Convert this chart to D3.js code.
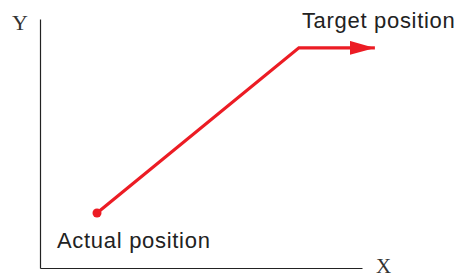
<!DOCTYPE html>
<html>
<head>
  <script src="https://d3js.org/d3.v7.min.js"></script>
  <style>
    body { margin: 0; background: #fff; }
    svg { display: block; }
  </style>
</head>
<body>
<svg></svg>
<script>
  // path points in axis units (0..100 on both axes)
  var pathX = [17.7, 80.4, 104];
  var pathY = [22.1, 88.4, 88.4];
  var startLabel = "Actual position";
  var endLabel = "Target position";
  var axisNames = ["X", "Y"];

  var width = 456, height = 278;
  var red = "#ec1c24";

  var svg = d3.select("svg").attr("width", width).attr("height", height);

  var x = d3.scaleLinear().domain([0, 100]).range([40, 362]);
  var y = d3.scaleLinear().domain([0, 100]).range([268, 19]);

  // axes, drawn as plain lines without ticks
  svg.append("g")
    .attr("transform", "translate(0," + y(0) + ")")
    .call(d3.axisBottom(x).ticks(0).tickSizeOuter(0))
    .select(".domain").attr("stroke", "#222").attr("stroke-width", 1.2);
  svg.append("g")
    .attr("transform", "translate(" + x(0) + ",0)")
    .call(d3.axisLeft(y).ticks(0).tickSizeOuter(0))
    .select(".domain").attr("stroke", "#222").attr("stroke-width", 1.2);

  svg.append("text").attr("x", x(0) + 336).attr("y", y(0) + 5)
    .attr("font-family", "'Liberation Serif', 'DejaVu Serif', serif")
    .attr("font-size", 21).attr("fill", "#333").text(axisNames[0]);
  svg.append("text").attr("x", x(0) - 28).attr("y", y(100) + 11)
    .attr("font-family", "'Liberation Serif', 'DejaVu Serif', serif")
    .attr("font-size", 22).attr("fill", "#333").text(axisNames[1]);

  svg.append("defs").append("marker")
    .attr("id", "arrow")
    .attr("markerUnits", "userSpaceOnUse")
    .attr("viewBox", "0 0 25 14")
    .attr("markerWidth", 25).attr("markerHeight", 14)
    .attr("refX", 25).attr("refY", 7)
    .attr("orient", "auto")
    .append("path").attr("d", "M0,0L25,7L0,14Z").attr("fill", red);

  var pts = pathX.map(function (d, i) { return [x(d), y(pathY[i])]; });
  // stop the shaft where the arrowhead starts
  var last = pts[pts.length - 1];
  var shaft = pts.slice(0, -1).concat([[last[0] - 20, last[1]]]);

  svg.append("path")
    .attr("d", d3.line()(shaft))
    .attr("fill", "none").attr("stroke", red).attr("stroke-width", 3.2)
    .attr("stroke-linejoin", "miter");
  svg.append("path")
    .attr("d", d3.line()([shaft[shaft.length - 1], last]))
    .attr("fill", "none").attr("stroke", red).attr("stroke-width", 3.2)
    .attr("marker-end", "url(#arrow)");

  svg.append("circle").attr("cx", pts[0][0]).attr("cy", pts[0][1])
    .attr("r", 4.5).attr("fill", red);

  svg.append("text").attr("x", pts[0][0] - 40).attr("y", pts[0][1] + 35)
    .attr("font-family", "'Liberation Sans', Arial, sans-serif")
    .attr("font-size", 22).attr("letter-spacing", 0.7)
    .attr("fill", "#222").text(startLabel);
  svg.append("text").attr("x", pts[1][0] + 3).attr("y", pts[1][1] - 20)
    .attr("font-family", "'Liberation Sans', Arial, sans-serif")
    .attr("font-size", 22).attr("letter-spacing", 0.7)
    .attr("fill", "#222").text(endLabel);
</script>
</body>
</html>
